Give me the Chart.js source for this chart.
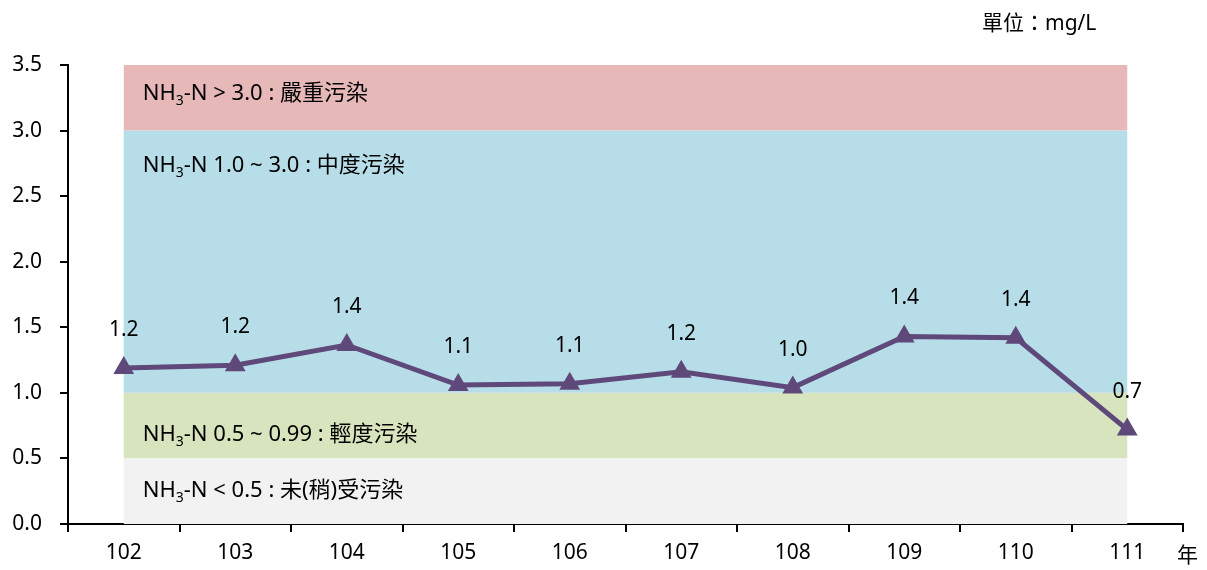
<!DOCTYPE html>
<html lang="zh-Hant">
<head>
<meta charset="utf-8">
<script src="https://cdn.jsdelivr.net/npm/chart.js@4.4.1/dist/chart.umd.min.js"></script>
<style>
  html, body { margin: 0; padding: 0; background: #fff; }
  #wrap { position: relative; width: 1207px; height: 570px; }
  #unit { position: absolute; left: 982px; top: 6px; font: 21px "Noto Sans", "Noto Sans CJK TC", sans-serif; color: #000; }
  #year { position: absolute; left: 1177px; top: 538px; font: 21px "Noto Sans CJK TC", sans-serif; color: #000; }
</style>
</head>
<body>
<div id="wrap">
  <canvas id="grafico" width="1207" height="570"></canvas>
  <div id="unit">單位：mg/L</div>
  <div id="year">年</div>
</div>
<script>
// 年度與氨氮濃度
const anos = ["102", "103", "104", "105", "106", "107", "108", "109", "110", "111"];
const nh3n = [1.19, 1.21, 1.365, 1.06, 1.07, 1.16, 1.04, 1.43, 1.42, 0.72];

// 污染等級區間
const faixaMin = [3.0, 1.0, 0.5, 0.0];
const faixaMax = [3.5, 3.0, 1.0, 0.5];
const faixaCor = ["#E6B8B7", "#B7DEE8", "#D7E4BD", "#F2F2F2"];
const faixaTexto = [" > 3.0 : 嚴重污染", " 1.0 ~ 3.0 : 中度污染", " 0.5 ~ 0.99 : 輕度污染", " < 0.5 : 未(稍)受污染"];
const faixaPosTexto = [3.28, 2.73, 0.68, 0.25];

const fonte = '"Noto Sans", "Noto Sans CJK TC", sans-serif';

// 背景色帶與文字
const faixasPlugin = {
    id: "faixas",
    beforeDatasetsDraw(chart) {
        const ctx = chart.ctx;
        const x = chart.scales.x;
        const y = chart.scales.y;
        const x0 = x.getPixelForValue(0);
        const x1 = x.getPixelForValue(anos.length - 1);
        ctx.save();
        for (let i = 0; i < faixaMin.length; i++) {
            const yTop = y.getPixelForValue(faixaMax[i]);
            const yBot = y.getPixelForValue(faixaMin[i]);
            ctx.fillStyle = faixaCor[i];
            ctx.fillRect(x0, yTop, x1 - x0, yBot - yTop);
        }
        ctx.fillStyle = "#000";
        ctx.textBaseline = "middle";
        ctx.textAlign = "left";
        for (let i = 0; i < faixaTexto.length; i++) {
            const ty = y.getPixelForValue(faixaPosTexto[i]);
            let tx = x0 + 19;
            ctx.font = "22px " + fonte;
            ctx.fillText("NH", tx, ty);
            tx += ctx.measureText("NH").width;
            ctx.font = "14px " + fonte;
            ctx.fillText("3", tx, ty + 7);
            tx += ctx.measureText("3").width;
            ctx.font = "22px " + fonte;
            ctx.fillText("-N" + faixaTexto[i], tx, ty);
        }
        ctx.restore();
    }
};

// 數值標籤
const rotulosPlugin = {
    id: "rotulos",
    afterDatasetsDraw(chart) {
        const ctx = chart.ctx;
        const meta = chart.getDatasetMeta(0);
        ctx.save();
        ctx.font = "21px " + fonte;
        ctx.fillStyle = "#000";
        ctx.textAlign = "center";
        ctx.textBaseline = "middle";
        meta.data.forEach((p, i) => {
            ctx.fillText(nh3n[i].toFixed(1), p.x, p.y - 38);
        });
        ctx.restore();
    }
};

new Chart(document.getElementById("grafico"), {
    type: "line",
    data: {
        labels: anos,
        datasets: [{
            data: nh3n,
            borderColor: "#5F497A",
            backgroundColor: "#5F497A",
            borderWidth: 5,
            pointStyle: "triangle",
            pointRadius: 10,
            pointBorderWidth: 2,
            tension: 0
        }]
    },
    options: {
        responsive: false,
        animation: false,
        layout: { padding: { top: 65, right: 24, left: 0, bottom: 0 } },
        plugins: { legend: { display: false }, tooltip: { enabled: false } },
        scales: {
            x: {
                offset: true,
                grid: { offset: true, drawOnChartArea: false, drawTicks: true, tickLength: 8, color: "#000", lineWidth: 2 },
                border: { color: "#000", width: 2 },
                ticks: { color: "#000", font: { size: 21, family: fonte }, padding: 8, maxRotation: 0 },
                afterFit(scale) { scale.height = 46; }
            },
            y: {
                min: 0,
                max: 3.5,
                grid: { drawOnChartArea: false, drawTicks: true, tickLength: 8, color: "#000", lineWidth: 2 },
                border: { color: "#000", width: 2 },
                ticks: { stepSize: 0.5, color: "#000", font: { size: 21, family: fonte }, padding: 18,
                    callback: (v) => v.toFixed(1) },
                afterFit(scale) { scale.width = 68; }
            }
        }
    },
    plugins: [faixasPlugin, rotulosPlugin]
});
</script>
</body>
</html>
